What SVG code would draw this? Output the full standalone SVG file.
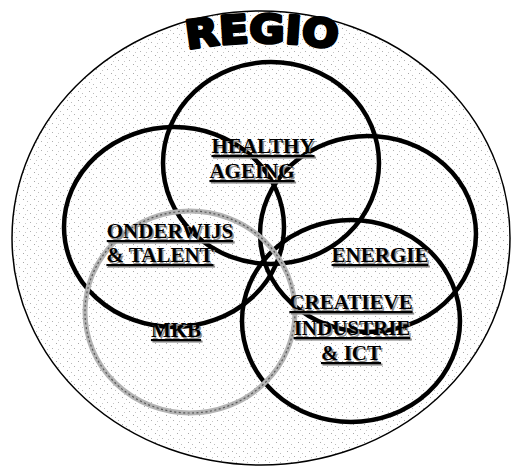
<svg xmlns="http://www.w3.org/2000/svg" width="517" height="468" viewBox="0 0 517 468">
<defs>
<pattern id="speck" width="11" height="9" patternUnits="userSpaceOnUse">
<rect x="1" y="1" width="1" height="1" fill="#a8a8a8"/>
<rect x="5" y="3" width="1" height="1" fill="#bcbcbc"/>
<rect x="8" y="6" width="1" height="1" fill="#b0b0b0"/>
<rect x="3" y="7" width="1" height="1" fill="#c8c8c8"/>
</pattern>
<path id="regioArc" d="M160,55 A430,430 0 0 1 364,55"/>
</defs>
<style>
.ring{fill:none;stroke:#000;stroke-width:4.5}
.grey{fill:none;stroke:#b4b4b4;stroke-width:5}
.greyd{fill:none;stroke:#555;stroke-width:1.2;stroke-dasharray:2 2.5}
.lbl{font-family:"Liberation Serif","Times New Roman",serif;font-weight:bold;font-size:21px;text-decoration:underline;text-anchor:middle}
.sh{fill:#8c8c8c}
.fg{fill:#000}
</style>
<rect width="517" height="468" fill="#fff"/>
<g id="regio">
<ellipse cx="261" cy="238" rx="249" ry="227" fill="url(#speck)" stroke="#000" stroke-width="1.5"/>
<text font-family="DejaVu Sans, sans-serif" font-weight="bold" font-size="39" fill="#000" stroke="#000" stroke-width="3" stroke-linejoin="round"><textPath href="#regioArc" startOffset="50%" text-anchor="middle" textLength="150" lengthAdjust="spacingAndGlyphs">REGIO</textPath></text>
</g>
<g id="healthy-ageing">
<ellipse class="ring" cx="271" cy="163" rx="108" ry="101"/>
</g>
<g id="onderwijs-talent">
<ellipse class="ring" cx="174" cy="227" rx="110" ry="100"/>
</g>
<g id="energie">
<ellipse class="ring" cx="368" cy="234" rx="108" ry="98"/>
</g>
<g id="creatieve-industrie-ict">
<ellipse class="ring" cx="351" cy="321" rx="109" ry="101"/>
</g>
<g id="mkb">
<ellipse class="grey" cx="190" cy="312" rx="105" ry="101"/>
<ellipse class="greyd" cx="190" cy="312" rx="105" ry="101"/>
</g>
<g id="labels">
<g class="lbl sh" transform="translate(1.5,1.5)">
<text x="263" y="153">HEALTHY</text>
<text x="252" y="178">AGEING</text>
<text x="170" y="238">ONDERWIJS</text>
<text x="160" y="262">&amp; TALENT</text>
<text x="380" y="262">ENERGIE</text>
<text x="351" y="309">CREATIEVE</text>
<text x="352" y="335">INDUSTRIE</text>
<text x="351" y="360">&amp; ICT</text>
<text x="176" y="337">MKB</text>
</g>
<g class="lbl fg">
<text x="263" y="153">HEALTHY</text>
<text x="252" y="178">AGEING</text>
<text x="170" y="238">ONDERWIJS</text>
<text x="160" y="262">&amp; TALENT</text>
<text x="380" y="262">ENERGIE</text>
<text x="351" y="309">CREATIEVE</text>
<text x="352" y="335">INDUSTRIE</text>
<text x="351" y="360">&amp; ICT</text>
<text x="176" y="337">MKB</text>
</g>
</g>
</svg>
